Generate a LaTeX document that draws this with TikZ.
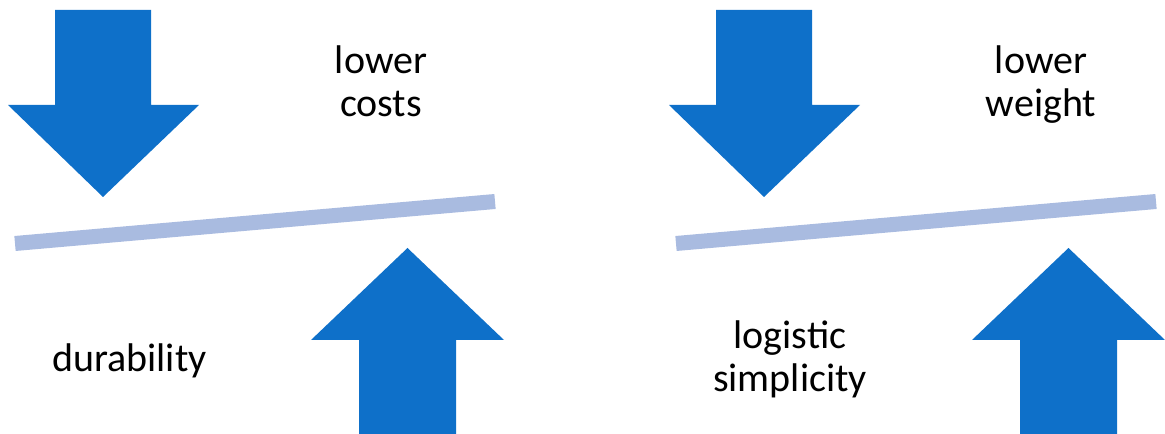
\documentclass[tikz,border=0pt]{standalone}
\usepackage{fontspec}
\setmainfont{Carlito}
\usetikzlibrary{positioning}

\definecolor{arrowblue}{RGB}{14,112,201}
\definecolor{beamblue}{RGB}{169,187,224}

\begin{document}
\begin{tikzpicture}[x=0.75pt,y=-0.75pt,
    blockarrow/.style={fill=arrowblue},
    beam/.style={draw=beamblue,line width=11.25pt},
    tag/.style={font=\fontsize{30}{32.25}\selectfont,align=center,inner sep=0pt,anchor=base}]
  \useasboundingbox (0,0) rectangle (1165,434);

  % --- Left balance ---
  \fill[blockarrow] (55,10) -- (151,10) -- (151,105) -- (199,105) -- (103,197)
    -- (8,105) -- (55,105) -- cycle;
  \draw[beam] (15,243.5) coordinate (lbeamL) -- (495,201.5) coordinate (lbeamR);
  \fill[blockarrow] (359,434) -- (359,340) -- (311,340) -- (407.5,248)
    -- (504,340) -- (456,340) -- (456,434) -- cycle;
  \node[tag] (costs) at (381,117) {lower\\costs};
  \node[tag] (durability) at (129.5,372) {durability};

  % --- Right balance ---
  \begin{scope}[shift={(661,0)}]
    \fill[blockarrow] (55,10) -- (151,10) -- (151,105) -- (199,105) -- (103,197)
      -- (8,105) -- (55,105) -- cycle;
    \draw[beam] (15,243.5) coordinate (rbeamL) -- (495,201.5) coordinate (rbeamR);
    \fill[blockarrow] (359,434) -- (359,340) -- (311,340) -- (407.5,248)
      -- (504,340) -- (456,340) -- (456,434) -- cycle;
  \end{scope}
  \node[tag] (weight) at (1041,117) {lower\\weight};
  \node[tag] (logistic) at (790,392) {logistic\\simplicity};
\end{tikzpicture}
\end{document}
